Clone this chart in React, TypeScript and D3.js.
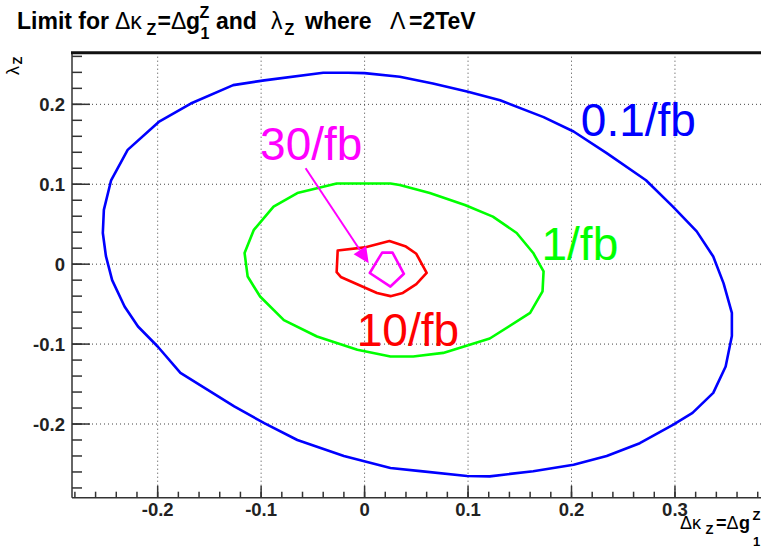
import React from "react";
import * as d3 from "d3";

// Canvas
const W = 761;
const H = 549;

// Axis ticks
const xMajorTicks = [-0.2, -0.1, 0, 0.1, 0.2, 0.3];
const xTickLabels = ["-0.2", "-0.1", "0", "0.1", "0.2", "0.3"];
const yMajorTicks = [-0.2, -0.1, 0, 0.1, 0.2];
const yTickLabels = ["-0.2", "-0.1", "0", "0.1", "0.2"];

// Limit contours (Δκ_Z, λ_Z) for each integrated luminosity
const contour01fb: [number, number][] = [
  [0.034, 0.2345], [0.0, 0.239], [-0.016, 0.2395], [-0.04, 0.2395], [-0.097, 0.23],
  [-0.127, 0.224], [-0.168, 0.201], [-0.199, 0.178], [-0.229, 0.143], [-0.245, 0.105],
  [-0.252, 0.068], [-0.253, 0.039], [-0.25, 0.01], [-0.244, -0.02], [-0.232, -0.053],
  [-0.219, -0.078], [-0.2, -0.103], [-0.178, -0.136], [-0.152, -0.157], [-0.126, -0.178],
  [-0.097, -0.199], [-0.065, -0.22], [-0.02, -0.24], [0.025, -0.255], [0.054, -0.259],
  [0.099, -0.265], [0.121, -0.2655], [0.163, -0.259], [0.202, -0.251], [0.234, -0.24],
  [0.266, -0.224], [0.298, -0.201], [0.317, -0.186], [0.337, -0.161], [0.349, -0.128],
  [0.355, -0.09], [0.355, -0.061], [0.347, -0.024], [0.337, 0.0095], [0.321, 0.041],
  [0.298, 0.072], [0.272, 0.105], [0.234, 0.139], [0.202, 0.166], [0.173, 0.184],
  [0.131, 0.205], [0.099, 0.216], [0.066, 0.226],
];

const contour1fb: [number, number][] = [
  [0.025, 0.101], [-0.027, 0.101], [-0.065, 0.089], [-0.088, 0.072], [-0.107, 0.043],
  [-0.116, 0.014], [-0.113, -0.0155], [-0.101, -0.0405], [-0.078, -0.07], [-0.046, -0.0905],
  [-0.007, -0.107], [0.025, -0.1155], [0.047, -0.1155], [0.076, -0.111], [0.121, -0.093],
  [0.16, -0.061], [0.172, -0.034], [0.173, -0.009], [0.163, 0.014], [0.147, 0.039],
  [0.124, 0.0595], [0.097, 0.074], [0.063, 0.089], [0.034, 0.099],
];

const contour10fb: [number, number][] = [
  [-0.026, 0.017], [0.0, 0.021], [0.024, 0.029], [0.04, 0.022], [0.05, 0.013],
  [0.06, -0.011], [0.05, -0.025], [0.037, -0.036], [0.025, -0.04], [0.012, -0.036],
  [-0.023, -0.016], [-0.027, -0.01],
];

const contour30fb: [number, number][] = [
  [0.017, 0.0145], [0.027, 0.0145], [0.038, -0.012], [0.025, -0.028], [0.005, -0.011],
];

const contours = [
  { name: "0.1/fb", points: contour01fb, color: "#0000ff" },
  { name: "1/fb", points: contour1fb, color: "#00ff00" },
  { name: "10/fb", points: contour10fb, color: "#ff0000" },
  { name: "30/fb", points: contour30fb, color: "#ff00ff" },
];

// Contour labels, anchored in data coordinates
const contourLabels = [
  { text: "0.1/fb", x: 0.209, y: 0.16, color: "#0000ff" },
  { text: "1/fb", x: 0.171, y: 0.005, color: "#00ff00" },
  { text: "10/fb", x: -0.0076, y: -0.102, color: "#ff0000" },
  { text: "30/fb", x: -0.101, y: 0.13, color: "#ff00ff" },
];

// Arrow pointing from the 30/fb label to its contour
const arrowFrom: [number, number] = [-0.057, 0.12];
const arrowTo: [number, number] = [0.004, 0.001];

const FONT = "'Liberation Sans', Arial, Helvetica, sans-serif";

export default function App() {
  const left = 72;
  const top = 52.7;
  const bottom = 497.7;
  const pxPerX = 1034.6;
  const x = d3.scaleLinear().domain([-0.2828, 0.4]).range([left, left + 0.6828 * pxPerX]);
  const y = d3.scaleLinear().domain([-0.2922, 0.2646]).range([bottom, top]);
  const right = W + 20;

  const line = d3
    .line<[number, number]>()
    .x((d) => x(d[0]))
    .y((d) => y(d[1]))
    .curve(d3.curveLinearClosed);

  const xMinor = d3.range(-14, 20).map((i) => +(i * 0.02).toFixed(2));
  const yMinor = d3.range(-14, 14).map((i) => +(i * 0.02).toFixed(2));

  // arrow geometry in pixels
  const ax1 = x(arrowFrom[0]);
  const ay1 = y(arrowFrom[1]);
  const ax2 = x(arrowTo[0]);
  const ay2 = y(arrowTo[1]);
  const len = Math.hypot(ax2 - ax1, ay2 - ay1);
  const ux = (ax2 - ax1) / len;
  const uy = (ay2 - ay1) / len;
  const headL = 16;
  const headW = 7.5;
  const bx = ax2 - ux * headL;
  const by = ay2 - uy * headL;
  const head = `M${ax2},${ay2}L${bx - uy * headW},${by + ux * headW}L${bx + uy * headW},${by - ux * headW}Z`;

  const axisColor = "#333";

  return (
    <svg width={W} height={H} style={{ position: "absolute", left: 0, top: 0, background: "#fff" }}>
      <rect x={0} y={0} width={W} height={H} fill="#fff" />

      {/* grid */}
      <g stroke="#444" strokeWidth={1} strokeDasharray="1 3">
        {xMajorTicks.map((t) => (
          <line key={"gx" + t} x1={x(t)} x2={x(t)} y1={top} y2={bottom} />
        ))}
        {yMajorTicks.map((t) => (
          <line key={"gy" + t} x1={left} x2={right} y1={y(t)} y2={y(t)} />
        ))}
      </g>

      {/* contours */}
      {contours.map((c) => (
        <path key={c.name} d={line(c.points) || ""} fill="none" stroke={c.color} strokeWidth={2.6} strokeLinejoin="round" />
      ))}

      {/* arrow */}
      <line x1={ax1} y1={ay1} x2={bx} y2={by} stroke="#ff00ff" strokeWidth={2} />
      <path d={head} fill="#ff00ff" />

      {/* contour labels */}
      {contourLabels.map((l) => (
        <text key={l.text} x={x(l.x)} y={y(l.y)} fill={l.color} fontFamily={FONT} fontSize={46}>
          {l.text}
        </text>
      ))}

      {/* axes */}
      <g stroke={axisColor} strokeWidth={1.5}>
        <line x1={left} x2={left} y1={top} y2={bottom} />
        <line x1={left} x2={right} y1={bottom} y2={bottom} />
        {xMajorTicks.map((t) => (
          <line key={"tx" + t} x1={x(t)} x2={x(t)} y1={bottom} y2={bottom - 12} />
        ))}
        {xMinor.map((t) => (
          <line key={"mx" + t} x1={x(t)} x2={x(t)} y1={bottom} y2={bottom - 6} />
        ))}
        {yMajorTicks.map((t) => (
          <line key={"ty" + t} x1={left} x2={left + 18} y1={y(t)} y2={y(t)} />
        ))}
        {yMinor.map((t) => (
          <line key={"my" + t} x1={left} x2={left + 10} y1={y(t)} y2={y(t)} />
        ))}
      </g>
      <line x1={left - 1} x2={right} y1={top} y2={top} stroke="#111" strokeWidth={3} />

      {/* tick labels */}
      <g fontFamily={FONT} fontWeight="bold" fontSize={18.5} fill="#222">
        {xMajorTicks.map((t, i) => (
          <text key={"lx" + t} x={x(t)} y={516} textAnchor="middle">
            {xTickLabels[i]}
          </text>
        ))}
        {yMajorTicks.map((t, i) => (
          <text key={"ly" + t} x={left - 7} y={y(t) + 6.5} textAnchor="end">
            {yTickLabels[i]}
          </text>
        ))}
      </g>

      {/* title */}
      <g fontFamily={FONT} fontSize={23} fill="#000">
        <text x={17} y={29} fontWeight="bold">Limit for</text>
        <text x={115} y={29}>Δκ</text>
        <text x={146.5} y={34.5} fontSize={16} fontWeight="bold">Z</text>
        <text x={157.5} y={29} fontWeight="bold">=</text>
        <text x={171} y={29}>Δ</text>
        <text x={186} y={29} fontWeight="bold">g</text>
        <text x={199.5} y={18} fontSize={16} fontWeight="bold">Z</text>
        <text x={200.5} y={38.5} fontSize={16} fontWeight="bold">1</text>
        <text x={216} y={29} fontWeight="bold">and</text>
        <text x={271} y={29}>λ</text>
        <text x={284.5} y={34.5} fontSize={16} fontWeight="bold">Z</text>
        <text x={305} y={29} fontWeight="bold">where</text>
        <text x={390} y={29}>Λ</text>
        <text x={409} y={29} fontWeight="bold">=2TeV</text>
      </g>

      {/* y axis title */}
      <g transform="translate(19,75) rotate(-90)" fontFamily={FONT} fill="#000">
        <text x={0} y={0} fontSize={18}>λ</text>
        <text x={10.5} y={3} fontSize={13} fontWeight="bold">Z</text>
      </g>

      {/* x axis title */}
      <g fontFamily={FONT} fontSize={18} fill="#000">
        <text x={680} y={529}>Δκ</text>
        <text x={705.5} y={533.5} fontSize={13} fontWeight="bold">Z</text>
        <text x={716} y={529} fontWeight="bold">=</text>
        <text x={726.5} y={529}>Δ</text>
        <text x={739} y={529} fontWeight="bold">g</text>
        <text x={752.5} y={519.5} fontSize={13} fontWeight="bold">Z</text>
        <text x={753} y={546} fontSize={13} fontWeight="bold">1</text>
      </g>
    </svg>
  );
}
